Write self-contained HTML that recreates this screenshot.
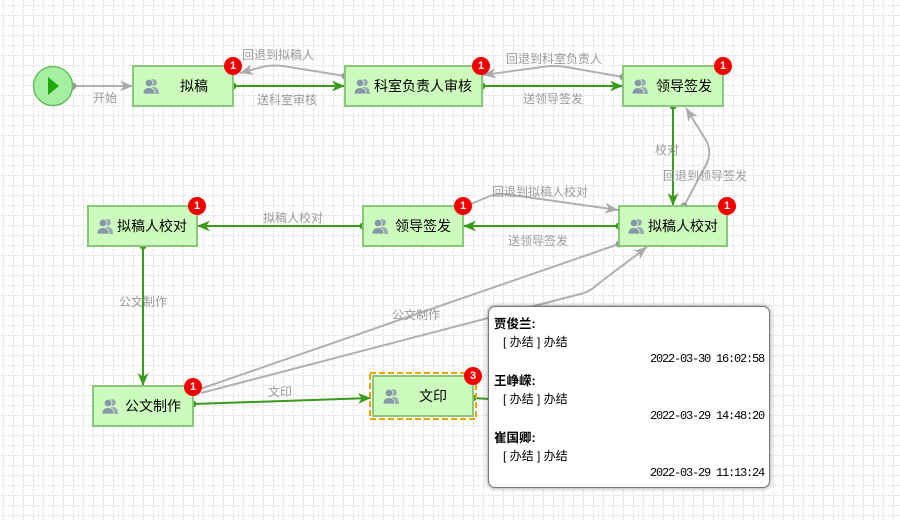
<!DOCTYPE html>
<html><head><meta charset="utf-8">
<style>
html,body{margin:0;padding:0;background:#fff;}
#wrap{position:relative;width:900px;height:520px;overflow:hidden;font-family:"Liberation Sans","Noto Sans CJK SC",sans-serif;}
svg{position:absolute;left:0;top:0;}
.lbl{font-size:12px;fill:#9a9a9a;text-anchor:middle;dominant-baseline:central;}
.nt{font-size:14px;fill:#000;text-anchor:middle;dominant-baseline:central;}
.bt{font-size:11px;font-weight:bold;fill:#fff;text-anchor:middle;dominant-baseline:central;font-family:"Liberation Sans",sans-serif;}
#tip{position:absolute;left:488px;top:306px;width:280px;height:180px;background:#fff;border:1px solid #777;border-radius:7px;box-shadow:0 0 5px rgba(0,0,0,0.45);}
#tip div{position:absolute;white-space:nowrap;font-size:12px;line-height:14px;color:#000;}
#tip .n{font-weight:bold;left:5px;font-size:12.5px;}
#tip .s{left:14px;}
#tip .t{right:5px;font-family:"Liberation Mono",monospace;font-size:12px;letter-spacing:-1.2px;}
</style></head><body>
<div id="wrap">
<svg width="900" height="520" viewBox="0 0 900 520" xmlns="http://www.w3.org/2000/svg">
<defs>
<pattern id="grid" x="3" y="5" width="10" height="10" patternUnits="userSpaceOnUse">
<rect x="0" y="1" width="1" height="2" fill="#dcdcdc"/>
<rect x="0" y="4.3" width="1" height="2" fill="#dcdcdc"/>
<rect x="0" y="7.6" width="1" height="2" fill="#dcdcdc"/>
<rect x="1.5" y="0" width="2" height="1" fill="#dcdcdc"/>
<rect x="4.8" y="0" width="2" height="1" fill="#dcdcdc"/>
<rect x="8.1" y="0" width="1.6" height="1" fill="#dcdcdc"/>
</pattern>
<marker id="ag" viewBox="0 0 12 10" refX="12" refY="5" markerWidth="13" markerHeight="11" markerUnits="userSpaceOnUse" orient="auto">
<path d="M0,0 L12,5 L0,10 L3.5,5 Z" fill="#3a9a1a"/>
</marker>
<marker id="ay" viewBox="0 0 12 10" refX="12" refY="5" markerWidth="13" markerHeight="11" markerUnits="userSpaceOnUse" orient="auto">
<path d="M0,0 L12,5 L0,10 L3.5,5 Z" fill="#aaaaaa"/>
</marker>
<g id="ic">
<circle cx="10.5" cy="4.5" r="3.4" fill="#9aa9b6"/>
<path d="M5 16 Q5 9 10.5 9 Q16 9 16 16 Z" fill="#9aa9b6"/>
<circle cx="6" cy="5" r="3.8" fill="#8597a8" stroke="#cdfbbd" stroke-width="0.8"/>
<path d="M0 16 Q0 9.6 6 9.6 Q12 9.6 12 16 Z" fill="#8597a8" stroke="#cdfbbd" stroke-width="0.8"/>
</g>
</defs>
<rect width="900" height="520" fill="url(#grid)"/>

<!-- gray connectors -->
<g fill="none" stroke="#b0b0b0" stroke-width="2">
<path d="M73 86 L133 86" marker-end="url(#ay)"/>
<path d="M345 76 L286 66.5 Q275 64.5 264 66.5 L240 73" marker-end="url(#ay)"/>
<path d="M623 77 L566 67 Q554 65 542 67 L483 75" marker-end="url(#ay)"/>
<path d="M684 206 L706 165 Q712 153 707 142 L686 108" marker-end="url(#ay)"/>
<path d="M466 206 L490 196 Q500 192.5 512 195 L618 210" marker-end="url(#ay)"/>
<path d="M619 244 L200 389"/>
<path d="M201 393 L584 293 Q592 290 598 284 L647 247" marker-end="url(#ay)"/>
</g>
<g fill="#999">
<circle cx="73" cy="86" r="3.5"/>
<circle cx="345" cy="76" r="3.5"/>
<circle cx="623" cy="77" r="3.5"/>
<circle cx="684" cy="206" r="3.5"/>
<circle cx="619" cy="244" r="3.5"/>
</g>

<!-- green connectors -->
<g fill="none" stroke="#3a9a1a" stroke-width="2">
<path d="M233 86 L345 86" marker-end="url(#ag)"/>
<path d="M482 86 L623 86" marker-end="url(#ag)"/>
<path d="M673 106 L673 206" marker-end="url(#ag)"/>
<path d="M619 226 L463 226" marker-end="url(#ag)"/>
<path d="M363 226 L197 226" marker-end="url(#ag)"/>
<path d="M143 246 L143 386" marker-end="url(#ag)"/>
<path d="M193 404 L371 398" marker-end="url(#ag)"/>
<path d="M473 398 L490 399"/>
</g>
<g fill="#3a9a1a">
<circle cx="233" cy="86" r="3.5"/>
<circle cx="482" cy="86" r="3.5"/>
<circle cx="673" cy="106" r="3.5"/>
<circle cx="619" cy="226" r="3.5"/>
<circle cx="363" cy="226" r="3.5"/>
<circle cx="143" cy="246" r="3.5"/>
<circle cx="193" cy="404" r="3.5"/>
<circle cx="473" cy="398" r="3.5"/>
</g>

<!-- connector labels -->
<text class="lbl" x="105" y="98">开始</text>
<text class="lbl" x="287" y="100">送科室审核</text>
<text class="lbl" x="278" y="55">回退到拟稿人</text>
<text class="lbl" x="553" y="99">送领导签发</text>
<text class="lbl" x="554" y="59">回退到科室负责人</text>
<text class="lbl" x="667" y="150">校对</text>
<text class="lbl" x="705" y="176">回退到领导签发</text>
<text class="lbl" x="540" y="192">回退到拟稿人校对</text>
<text class="lbl" x="538" y="241">送领导签发</text>
<text class="lbl" x="293" y="218">拟稿人校对</text>
<text class="lbl" x="143" y="302">公文制作</text>
<text class="lbl" x="416" y="315">公文制作</text>
<text class="lbl" x="280" y="392">文印</text>

<!-- start node -->
<circle cx="53" cy="86" r="19.5" fill="#a6eea0" stroke="#66c060" stroke-width="1.5"/>
<path d="M48 77 L59 86 L48 95 Z" fill="#22a80a"/>

<!-- nodes -->
<g stroke="#88c878" stroke-width="2" fill="#cdfbbd">
<rect x="133" y="66" width="100" height="40"/>
<rect x="345" y="66" width="137" height="40"/>
<rect x="623" y="66" width="100" height="40"/>
<rect x="619" y="206" width="108" height="40"/>
<rect x="363" y="206" width="100" height="40"/>
<rect x="88" y="206" width="109" height="40"/>
<rect x="93" y="386" width="100" height="40"/>
<rect x="373" y="376" width="100" height="40"/>
</g>
<rect x="370" y="373" width="106" height="46" fill="none" stroke="#f0a000" stroke-width="2" stroke-dasharray="6 3"/>

<use href="#ic" x="143" y="78"/>
<use href="#ic" x="354" y="78"/>
<use href="#ic" x="632" y="78"/>
<use href="#ic" x="628" y="218"/>
<use href="#ic" x="372" y="218"/>
<use href="#ic" x="97" y="218"/>
<use href="#ic" x="102" y="398"/>
<use href="#ic" x="383" y="388"/>

<text class="nt" x="194" y="86">拟稿</text>
<text class="nt" x="423" y="86">科室负责人审核</text>
<text class="nt" x="684" y="86">领导签发</text>
<text class="nt" x="683" y="226">拟稿人校对</text>
<text class="nt" x="423" y="226">领导签发</text>
<text class="nt" x="152" y="226">拟稿人校对</text>
<text class="nt" x="153" y="406">公文制作</text>
<text class="nt" x="433" y="396">文印</text>

<!-- badges -->
<g fill="#f20000">
<circle cx="233" cy="66" r="9"/>
<circle cx="481" cy="66" r="9"/>
<circle cx="723" cy="66" r="9"/>
<circle cx="727" cy="206" r="9"/>
<circle cx="463" cy="206" r="9"/>
<circle cx="197" cy="206" r="9"/>
<circle cx="193" cy="387" r="9"/>
<circle cx="473" cy="376" r="9"/>
</g>
<text class="bt" x="233" y="66">1</text>
<text class="bt" x="481" y="66">1</text>
<text class="bt" x="723" y="66">1</text>
<text class="bt" x="727" y="206">1</text>
<text class="bt" x="463" y="206">1</text>
<text class="bt" x="197" y="206">1</text>
<text class="bt" x="193" y="387">1</text>
<text class="bt" x="473" y="376">3</text>
</svg>

<div id="tip">
<div class="n" style="top:10px">贾俊兰:</div>
<div class="s" style="top:28px">[ 办结 ] 办结</div>
<div class="t" style="top:45px">2022-03-30 16:02:58</div>
<div class="n" style="top:67px">王峥嵘:</div>
<div class="s" style="top:85px">[ 办结 ] 办结</div>
<div class="t" style="top:102px">2022-03-29 14:48:20</div>
<div class="n" style="top:124px">崔国卿:</div>
<div class="s" style="top:142px">[ 办结 ] 办结</div>
<div class="t" style="top:159px">2022-03-29 11:13:24</div>
</div>
</div>
</body></html>
